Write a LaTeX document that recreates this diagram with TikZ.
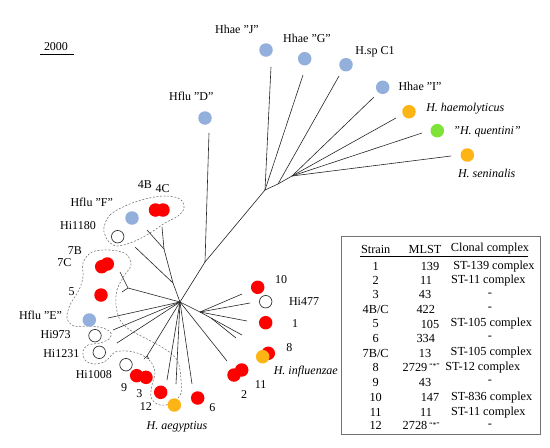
\documentclass[tikz,border=0pt]{standalone}
\usepackage{fontspec}
\setmainfont{Liberation Serif}
\definecolor{dotblue}{HTML}{93AFDB}
\definecolor{dotorange}{HTML}{FDB515}
\definecolor{dotgreen}{HTML}{7FE236}
\definecolor{dotred}{HTML}{FF0000}
\tikzset{
  dot/.style={circle, inner sep=0pt, minimum size=13.5pt},
  bluedot/.style={dot, fill=dotblue},
  reddot/.style={dot, fill=dotred},
  orangedot/.style={dot, fill=dotorange},
  greendot/.style={dot, fill=dotgreen},
  opendot/.style={dot, minimum size=12.5pt, draw=black!80, line width=0.7pt, fill=white},
  lab/.style={font=\fontsize{12}{14}\selectfont, inner sep=0pt},
  ilab/.style={font=\fontsize{12}{14}\selectfont\itshape, inner sep=0pt},
  tlab/.style={font=\fontsize{12.3}{14}\selectfont, inner sep=0pt},
  branch/.style={draw=black!85, line width=0.6pt},
  outline/.style={draw=black!55, line width=0.55pt, dash pattern=on 2pt off 1.6pt},
  tablebox/.style={draw=black!55, line width=0.8pt}
}
\begin{document}
\begin{tikzpicture}[x=1pt,y=-1pt]
\useasboundingbox (0,0) rectangle (550,448);
\fill[white] (0,0) rectangle (550,448);

% scale bar
\node[lab] (scale) at (56,46.5) {2000};
\coordinate (sbL) at (40,54.5);
\coordinate (sbR) at (74,54.5);
\draw[line width=0.9pt] (sbL) -- (sbR);

% dashed outlines
\draw[outline] plot[smooth cycle, tension=0.6] coordinates {
 (104,227) (110,215) (125,206) (145,199) (165,196) (180,199) (184,208)
 (178,216) (165,223) (150,233) (135,241) (118,246) (109,242) (105,235)};
\draw[outline] plot[smooth cycle, tension=0.55] coordinates {
 (110,250) (126,254) (131,265) (124,276) (117,290) (116,305) (120,320)
 (130,330) (145,338) (160,346) (173,355) (179,365) (181,380) (181,393)
 (175,401) (166,405) (157,404) (151,397) (152,385) (155,373) (151,362)
 (140,354) (127,351) (115,352) (110,357) (104,362) (93,364) (85,360)
 (83,351) (88,345) (100,343) (109,339) (111,333) (103,328) (90,326)
 (74,326) (67,318) (70,305) (79,290) (83,277) (83,263) (92,252)};

% tree internal coordinates
\coordinate (root) at (180,302);
\coordinate (nD) at (205,262);
\coordinate (nJ) at (265,190);
\coordinate (nS) at (278,184);
\coordinate (nH) at (292,176);
\coordinate (nF) at (173,283);
\coordinate (n4) at (164,249);
\coordinate (n7) at (128,288);
\coordinate (nR) at (200,312);
\coordinate (nR2) at (211,318);
\coordinate (nQ) at (147,356);
% leaf ends
\coordinate (eJ) at (271,67);
\coordinate (eG) at (303,75);
\coordinate (eS) at (339,76);
\coordinate (eI) at (374,97);
\coordinate (eHa) at (396,118);
\coordinate (eQu) at (422,133);
\coordinate (eSe) at (451,156);
\coordinate (eD) at (209,133);
\coordinate (e4B) at (147,230);
\coordinate (e4C) at (162,227);
\coordinate (e1180) at (135,247);
\coordinate (e7) at (120,272);
\coordinate (e5) at (122,292);
\coordinate (eE) at (108,318);
\coordinate (e973) at (113,330);
\coordinate (e1231) at (117,343);
\coordinate (eQa) at (144,359);
\coordinate (eQb) at (149,359);
\coordinate (e12) at (167,380);
\coordinate (eAe) at (176,384);
\coordinate (e6) at (192,384);
\coordinate (e2) at (227,361);
\coordinate (e10) at (242,294);
\coordinate (e477) at (250,303);
\coordinate (e1) at (247,321);
\coordinate (e8a) at (242,335);
\coordinate (e8b) at (236,338);

\draw[branch] (root) -- (nD) -- (nJ) -- (nS) -- (nH);
\draw[branch] (nD) -- (eD);
\draw[branch] (nJ) -- (eJ);
\draw[branch] (nJ) -- (eG);
\draw[branch] (nS) -- (eS);
\draw[branch] (nH) -- (eI);
\draw[branch] (nH) -- (eHa);
\draw[branch] (nH) -- (eQu);
\draw[branch] (nH) -- (eSe);
\draw[branch] (root) -- (nF) -- (e1180);
\draw[branch] (nF) -- (n4) -- (e4B);
\draw[branch] (n4) -- (e4C);
\draw[branch] (root) -- (n7) -- (e7);
\draw[branch] (n7) -- (e5);
\draw[branch] (root) -- (eE);
\draw[branch] (root) -- (e973);
\draw[branch] (root) -- (e1231);
\draw[branch] (root) -- (nQ) -- (eQa);
\draw[branch] (nQ) -- (eQb);
\draw[branch] (root) -- (e12);
\draw[branch] (root) -- (eAe);
\draw[branch] (root) -- (e6);
\draw[branch] (root) -- (e2);
\draw[branch] (root) -- (nR) -- (e10);
\draw[branch] (nR) -- (e477);
\draw[branch] (nR) -- (e1);
\draw[branch] (nR) -- (nR2) -- (e8a);
\draw[branch] (nR2) -- (e8b);

% circles
\node[bluedot] (cJ) at (266,50) {};
\node[bluedot] (cG) at (304.7,58.7) {};
\node[bluedot] (cS) at (346,64.7) {};
\node[bluedot] (cI) at (382.7,87.3) {};
\node[orangedot] (cHa) at (409,111.7) {};
\node[greendot] (cQu) at (437.3,130.7) {};
\node[orangedot] (cSe) at (467.3,155) {};
\node[bluedot] (cD) at (205,118) {};
\node[bluedot] (cF) at (132,218) {};
\node[reddot] (c4B) at (155.5,210) {};
\node[reddot] (c4C) at (163,210) {};
\node[opendot] (c1180) at (117.7,236.7) {};
\node[reddot] (c7B) at (101.7,266.7) {};
\node[reddot] (c7C) at (107.3,264) {};
\node[reddot] (c5) at (101,295) {};
\node[bluedot] (cE) at (89.3,320) {};
\node[opendot] (c973) at (95,335.7) {};
\node[opendot] (c1231) at (99.3,352.3) {};
\node[opendot] (c1008) at (126,364.7) {};
\node[reddot] (c9) at (136.7,375.7) {};
\node[reddot] (c3) at (146,377.3) {};
\node[reddot] (c12) at (160.7,392.3) {};
\node[orangedot] (cAe) at (174.3,405) {};
\node[reddot] (c6) at (197.7,398) {};
\node[reddot] (c2) at (234,375) {};
\node[reddot] (c11) at (241.7,370) {};
\node[reddot] (c8r) at (268.3,353.3) {};
\node[orangedot] (c8o) at (262.7,356.7) {};
\node[reddot] (c1) at (265.7,322.7) {};
\node[opendot] (c477) at (265.7,301.7) {};
\node[reddot] (c10) at (257.7,287.3) {};

% labels
\node[lab] (lJ) at (237,29.3) {Hhae "J''};
\node[lab] (lG) at (307,38.3) {Hhae "G''};
\node[lab] (lS) at (375,51.7) {H.sp C1};
\node[lab] (lI) at (420,86) {Hhae "I''};
\node[ilab] (lHa) at (465.3,108.3) {H. haemolyticus};
\node[ilab] (lQu) at (487,131.7) {"H. quentini''};
\node[ilab] (lSe) at (486.7,173.3) {H. seninalis};
\node[lab] (lD) at (191.3,96.7) {Hflu "D''};
\node[lab] (l4B) at (145,185) {4B};
\node[lab] (l4C) at (162.7,189) {4C};
\node[lab] (lF) at (91.7,202.3) {Hflu "F''};
\node[lab] (l1180) at (78,226) {Hi1180};
\node[lab] (l7B) at (75,251) {7B};
\node[lab] (l7C) at (64.3,263) {7C};
\node[lab] (l5) at (71.7,291.7) {5};
\node[lab] (lE) at (40.5,315) {Hflu "E''};
\node[lab] (l973) at (55.7,335) {Hi973};
\node[lab] (l1231) at (61.3,353.3) {Hi1231};
\node[lab] (l1008) at (93.8,374.7) {Hi1008};
\node[lab] (l9) at (124,387.3) {9};
\node[lab] (l3) at (139.3,394) {3};
\node[lab] (l12) at (145.8,406.7) {12};
\node[ilab] (lAe) at (177,426.7) {H. aegyptius};
\node[lab] (l6) at (212.3,408) {6};
\node[lab] (l2) at (244,394.7) {2};
\node[lab] (l11) at (260.7,384.7) {11};
\node[lab] (l8) at (289.3,347.7) {8};
\node[ilab] (lIn) at (305.8,371.7) {H. influenzae};
\node[lab] (l1) at (295,324) {1};
\node[lab] (l477) at (304,301.7) {Hi477};
\node[lab] (l10) at (281,279.3) {10};

% table
\node[tablebox, minimum width=199pt, minimum height=197.5pt, inner sep=0pt] (tab) at (441.1,335.4) {};
\node[tlab] (hS) at (375.7,249) {Strain};
\node[tlab] (hM) at (425,249) {MLST};
\node[tlab] (hC) at (490,249) {Clonal complex};
\coordinate (ulL) at (360,256.5);
\coordinate (ulR) at (528.3,256.5);
\draw[line width=0.6pt] (ulL) -- (ulR);
\foreach \s/\m/\mx/\c/\cx/\y [count=\i] in {
  1/139/430/ST-139 complex/494/266.3,
  2/11/426/ST-11 complex/488.3/280.7,
  3/43/425/-/490/294.7,
  4B\slash C/422/425.8/-/490/309,
  5/105/430/ST-105 complex/491.3/324,
  6/334/425.8/-/490/338.3,
  7B\slash C/13/425/ST-105 complex/491.3/353,
  9/43/425/-/490/382.3,
  10/147/430/ST-836 complex/491.7/397.3,
  11/11/426/ST-11 complex/488.3/412.3}{
  \node[tlab] (rs\i) at (375.7,\y) {\s};
  \node[tlab] (rm\i) at (\mx,\y) {\m};
  \node[tlab] (rc\i) at (\cx,\y) {\c};
}
\node[tlab] (rs8) at (375.7,367.3) {8};
\node[tlab, anchor=west] (rm8) at (402.5,367.3) {2729\,{\fontsize{7.5}{8}\selectfont\raisebox{2.5pt}{``*''}}};
\node[tlab] (rc8) at (482.8,367.3) {ST-12 complex};
\node[tlab] (rs12) at (375.7,425.7) {12};
\node[tlab, anchor=west] (rm12) at (402.5,425.7) {2728\,{\fontsize{7.5}{8}\selectfont\raisebox{2.5pt}{``*''}}};
\node[tlab] (rc12) at (490,425.7) {-};
\end{tikzpicture}
\end{document}
